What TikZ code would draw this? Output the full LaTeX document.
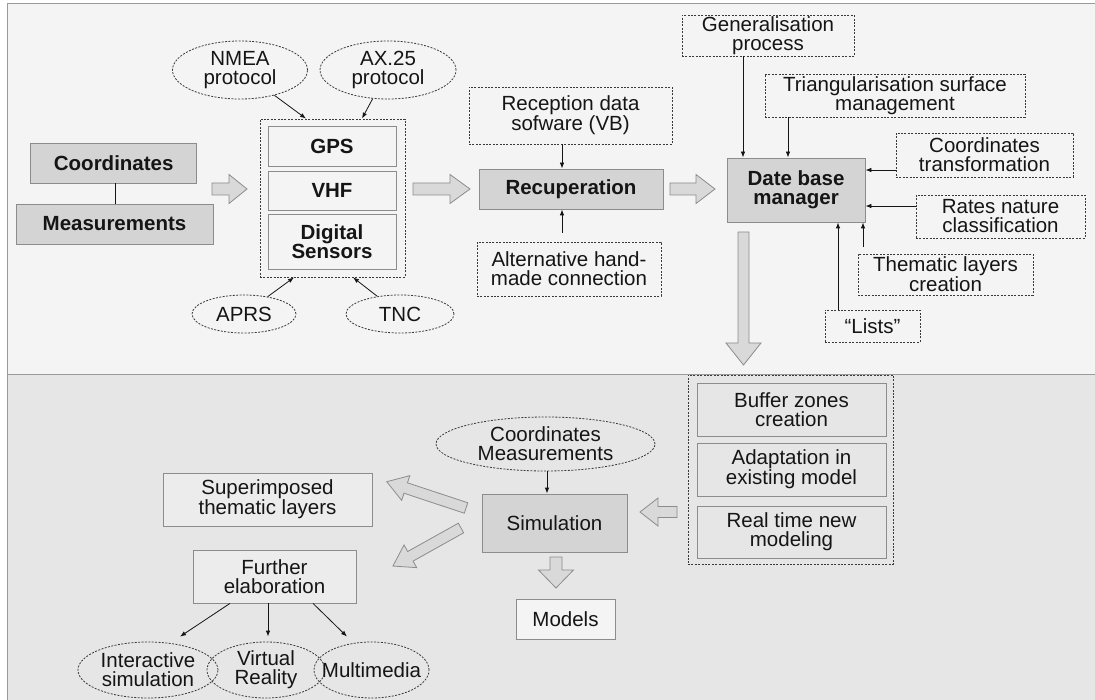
\documentclass[tikz,border=0pt]{standalone}
\usepackage{fontspec}
\setmainfont{Liberation Sans}
\usetikzlibrary{shapes.geometric,arrows.meta,calc}
\definecolor{bgtop}{HTML}{F4F4F4}
\definecolor{bgbot}{HTML}{E6E6E6}
\definecolor{gfill}{HTML}{D4D4D4}
\definecolor{bord}{HTML}{8C8C8C}
\definecolor{dotc}{HTML}{3A3A3A}
\definecolor{fatfill}{HTML}{D9D9D9}
\definecolor{lfill}{HTML}{ECECEC}
\definecolor{txt}{HTML}{151515}
\definecolor{framec}{HTML}{9A9A9A}
\newcommand{\fatarrow}[6]{%
  \draw[fatar, shift={(#1)}, rotate=#2] (0,#5) -- (#3-#4,#5) -- (#3-#4,#6) -- (#3,0) -- (#3-#4,-#6) -- (#3-#4,-#5) -- (0,-#5) -- cycle;}
\begin{document}
\begin{tikzpicture}[x=1pt,y=-1pt,
  every node/.style={font=\fontsize{20.5}{19}\selectfont, text=txt, align=center, inner sep=0pt},
  sz/.style 2 args={minimum width=#1pt, minimum height=#2pt},
  gbox/.style={draw=bord, fill=gfill, line width=0.8pt, font=\fontsize{20.5}{19}\selectfont\bfseries},
  gboxn/.style={draw=bord, fill=gfill, line width=0.8pt},
  pbox/.style={draw=bord, fill=bgtop, line width=0.8pt},
  lbox/.style={draw=bord, fill=lfill, line width=0.8pt},
  dbox/.style={draw=dotc, line width=0.8pt, dash pattern=on 2pt off 1.4pt},
  dell/.style={ellipse, draw=dotc, line width=0.8pt, dash pattern=on 2pt off 1.4pt, inner xsep=-20pt, inner ysep=-10pt},
  arr/.style={draw=txt, line width=0.8pt, -{Latex[length=6pt,width=4.5pt]}},
  fatar/.style={draw=bord, fill=fatfill, line width=0.8pt, line join=miter}
]
\useasboundingbox (0,0) rectangle (1095,700);
% panels
\draw[framec, fill=bgtop, line width=1pt] (7,4) rectangle (1100,375);
\draw[framec, fill=bgbot, line width=1pt] (7,375) rectangle (1100,705);

% ---- top left
\node[gbox, sz={166}{40}] (coord) at (113.7,163) {Coordinates};
\node[gbox, sz={197}{40}] (meas) at (114.5,224) {Measurements};
\draw[txt, line width=0.8pt] ([xshift=2pt]coord.south) -- ([xshift=1.2pt]meas.north);

\node[dbox, sz={145}{158}] (cont) at (332.5,198) {};
\node[pbox, sz={128}{40}, font=\fontsize{20.5}{19}\selectfont\bfseries] (gps) at (332,146) {GPS};
\node[pbox, sz={128}{39}, font=\fontsize{20.5}{19}\selectfont\bfseries] (vhf) at (332,190.5) {VHF};
\node[pbox, sz={128}{55}, font=\fontsize{20.5}{19}\selectfont\bfseries] (dig) at (332,241.5) {Digital\\Sensors};

\node[dell, sz={135}{58}] (nmea) at (240,70) {NMEA\\protocol};
\node[dell, sz={136}{58}] (ax) at (388,70) {AX.25\\protocol};
\node[dell, sz={104}{38}] (aprs) at (244,314) {APRS};
\node[dell, sz={108}{38}] (tnc) at (400,314) {TNC};

\draw[arr] (nmea) -- ([xshift=-26.5pt]cont.north);
\draw[arr] (ax) -- ([xshift=29.5pt]cont.north);
\draw[arr] (aprs) -- ([xshift=-38.5pt]cont.south);
\draw[arr] (tnc) -- ([xshift=20.5pt]cont.south);

% ---- recuperation
\node[gbox, sz={184}{40}] (rec) at (571,189) {Recuperation};
\node[dbox, sz={203}{57}] (recv) at (570.5,115.5) {Reception data\\sofware (VB)};
\node[dbox, sz={184}{54}] (alt) at (569,269) {Alternative hand-\\made connection};
\draw[arr] ([xshift=-8.5pt]recv.south) -- ([xshift=-9pt]rec.north);
\draw[arr] ([xshift=-7pt,yshift=9pt]alt.north) -- ([xshift=-9pt]rec.south);

% ---- data base manager
\node[gbox, sz={138}{64}] (dbm) at (796,190) {Date base\\manager};
\node[dbox, sz={172}{41}] (gen) at (768,35.5) {Generalisation\\process};
\node[dbox, sz={260}{43}] (tri) at (895,95.5) {Triangularisation surface\\management};
\node[dbox, sz={177}{44}] (ctr) at (984.5,155) {Coordinates\\transformation};
\node[dbox, sz={169}{43}] (rates) at (1000.5,216.5) {Rates nature\\classification};
\node[dbox, sz={175}{41}] (them) at (945.5,274.5) {Thematic layers\\creation};
\node[dbox, sz={95}{32}] (lists) at (872.5,326) {``Lists''};

\draw[arr] ([xshift=-25pt]gen.south) -- ([xshift=-53pt]dbm.north);
\draw[arr] ([xshift=-107pt]tri.south) -- ([xshift=-8pt]dbm.north);
\draw[arr] ([yshift=-15pt]ctr.west) -- ([yshift=20pt]dbm.east);
\draw[arr] ([yshift=10.5pt]rates.west) -- ([yshift=-16pt]dbm.east);
\draw[arr] ([xshift=-82.5pt,yshift=6.5pt]them.north) -- ([xshift=67pt]dbm.south);
\draw[arr] ([xshift=-34.5pt]lists.north) -- ([xshift=42pt]dbm.south);

% ---- bottom right
\node[dbox, sz={205}{189}] (bufc) at (790.5,469.5) {};
\node[lbox, fill=bgbot, sz={189}{53}] (buf) at (791.5,409.5) {Buffer zones\\creation};
\node[lbox, fill=bgbot, sz={189}{53}] (adap) at (791.5,469.5) {Adaptation in\\existing model};
\node[lbox, fill=bgbot, sz={189}{52}] (real) at (791.5,532) {Real time new\\modeling};

% ---- simulation
\node[gboxn, sz={145}{58}] (sim) at (554.5,523) {Simulation};
\node[dell, sz={219}{54}] (cm) at (545.5,444) {Coordinates\\Measurements};
\draw[arr] ([xshift=1.5pt]cm.south) -- ([xshift=-7.5pt]sim.north);
\node[lbox, fill=bgtop, sz={99}{40}] (models) at (565.5,619) {Models};
\node[lbox, sz={209}{53}] (sup) at (267.5,499.5) {Superimposed\\thematic layers};
\node[lbox, sz={163}{53}] (fur) at (274.5,576.5) {Further\\elaboration};

\node[dell, sz={140}{56}] (inter) at (148,670) {Interactive\\simulation};
\node[dell, sz={118}{56}] (vr) at (266,670) {Virtual\\Reality};
\node[dell, sz={115}{56}] (mm) at (371.5,670) {Multimedia};

\draw[arr] ([xshift=-44.5pt]fur.south) -- ([xshift=32pt,yshift=5pt]inter.north);
\draw[arr] ([xshift=-6.5pt]fur.south) -- ([xshift=2pt,yshift=5pt]vr.north);
\draw[arr] ([xshift=38.5pt]fur.south) -- ([xshift=-24.5pt,yshift=5pt]mm.north);

% ---- fat arrows
\coordinate (faA) at (212,189);
\coordinate (faB) at (413,189);
\coordinate (faC) at (670,189);
\coordinate (faD) at (743.5,232);
\coordinate (faE) at (677,512);
\coordinate (faF) at (556,557);
\coordinate (faG) at (466,508);
\coordinate (faH) at (461,528);
\fatarrow{faA}{0}{35}{18}{6}{14.5}
\fatarrow{faB}{0}{57}{20}{6}{14.5}
\fatarrow{faC}{0}{45}{19}{6}{14.5}
\fatarrow{faD}{-90}{133}{22}{5.5}{17.5}
\fatarrow{faE}{180}{37}{18}{5.5}{14}
\fatarrow{faF}{-90}{31}{18}{6}{17.5}
\fatarrow{faG}{161.65}{83.5}{20}{5.5}{13}
\fatarrow{faH}{209.2}{78}{20}{5.5}{13}
\end{tikzpicture}
\end{document}
